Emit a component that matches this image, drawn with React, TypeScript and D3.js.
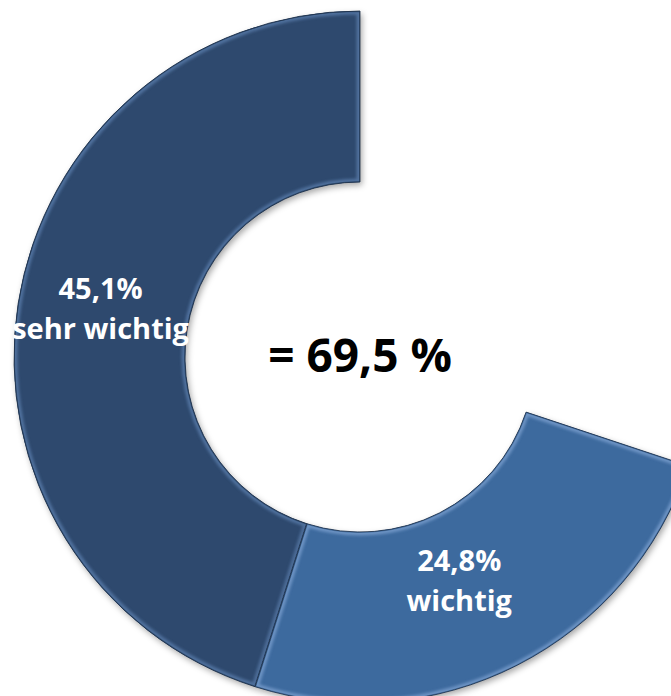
import React from "react";
import * as d3 from "d3";

const categories = ["sehr wichtig", "wichtig"];
const values = [45.1, 24.8];
const valueLabels = ["45,1%", "24,8%"];
const colors = ["#2D4A6E", "#3E6A9E"];
const highlights = ["#5C7FAE", "#7FA3D2"];
const totalLabel = "= 69,5 %";

const W = 671;
const H = 696;
const CX = 360;
const CY = 357;
const R_OUT = 346;
const R_IN = 175;
const FONT = "'Open Sans', Lato, sans-serif";

export default function App() {
  const angle = d3.scaleLinear().domain([0, 100]).range([0, -2 * Math.PI]);
  const arc = d3.arc<any>().innerRadius(R_IN).outerRadius(R_OUT);
  let acc = 0;
  const slices = values.map((v, i) => {
    const s = { startAngle: angle(acc), endAngle: angle(acc + v), i };
    acc += v;
    return s;
  });
  const labelArc = d3.arc<any>().innerRadius(R_IN).outerRadius(R_OUT);
  const nudges = [
    [-2, -14],
    [-19, -14],
  ];

  return (
    <svg
      width={W}
      height={H}
      style={{ position: "absolute", left: 0, top: 0, background: "#fff" }}
    >
      <defs>
        <filter id="shadow" x="-20%" y="-20%" width="140%" height="140%">
          <feDropShadow dx="2" dy="3" stdDeviation="3" floodColor="#000" floodOpacity="0.35" />
        </filter>
        <filter id="blur" x="-10%" y="-10%" width="120%" height="120%">
          <feGaussianBlur stdDeviation="1.6" />
        </filter>
        {slices.map((s) => (
          <clipPath id={`clip${s.i}`} key={s.i}>
            <path d={arc(s) || ""} />
          </clipPath>
        ))}
      </defs>
      <g transform={`translate(${CX},${CY})`}>
        {slices.map((s) => (
          <g key={s.i}>
            <path d={arc(s) || ""} fill={colors[s.i]} filter="url(#shadow)" />
            <g clipPath={`url(#clip${s.i})`}>
              <path
                d={arc(s) || ""}
                fill="none"
                stroke={highlights[s.i]}
                strokeWidth={7}
                opacity={0.75}
                filter="url(#blur)"
              />
              <path
                d={arc(s) || ""}
                fill="none"
                stroke={colors[s.i]}
                strokeWidth={2}
                opacity={0.8}
              />
            </g>
            <path d={arc(s) || ""} fill="none" stroke="#1B2D45" strokeWidth={1} opacity={0.8} />
          </g>
        ))}
        {slices.map((s) => {
          const [x, y] = labelArc.centroid(s);
          const [dx, dy] = nudges[s.i];
          return (
            <text
              key={"t" + s.i}
              x={x + dx}
              y={y + dy}
              textAnchor="middle"
              fill="#fff"
              fontFamily={FONT}
              fontWeight="bold"
              fontSize={29}
              style={{ fontVariantLigatures: "none" }}
            >
              <tspan x={x + dx} dy={-4}>
                {valueLabels[s.i]}
              </tspan>
              <tspan x={x + dx} dy={40}>
                {categories[s.i]}
              </tspan>
            </text>
          );
        })}
        <text
          x={0}
          y={15}
          textAnchor="middle"
          fill="#000"
          fontFamily={FONT}
          fontWeight="bold"
          fontSize={46}
        >
          {totalLabel}
        </text>
      </g>
    </svg>
  );
}
